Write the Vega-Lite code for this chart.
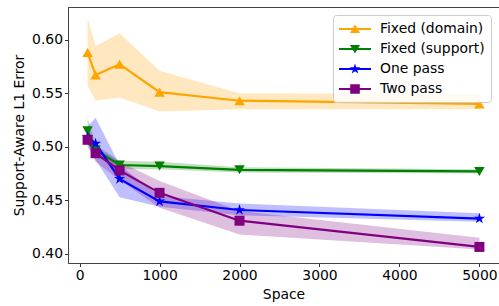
{
  "$schema": "https://vega.github.io/schema/vega-lite/v6.json",
  "width": 431,
  "height": 256,
  "autosize": {"type": "none"},
  "padding": {"left": 68, "top": 7, "right": 0, "bottom": 43},
  "config": {
    "font": "DejaVu Sans",
    "view": {"stroke": "#444", "strokeWidth": 1},
    "axis": {"grid": false, "labelFontSize": 13.9, "titleFontSize": 13.9, "labelColor": "black", "titleColor": "black", "titleFontWeight": "normal", "tickColor": "#333", "domainColor": "#444", "tickSize": 3.5, "labelPadding": 2, "titlePadding": 5}
  },
  "data": {"values": [
    {"series": "Fixed (domain)", "space": 100, "mean": 0.588, "lo": 0.557, "hi": 0.620},
    {"series": "Fixed (domain)", "space": 200, "mean": 0.567, "lo": 0.543, "hi": 0.594},
    {"series": "Fixed (domain)", "space": 500, "mean": 0.577, "lo": 0.546, "hi": 0.606},
    {"series": "Fixed (domain)", "space": 1000, "mean": 0.551, "lo": 0.533, "hi": 0.571},
    {"series": "Fixed (domain)", "space": 2000, "mean": 0.543, "lo": 0.535, "hi": 0.550},
    {"series": "Fixed (domain)", "space": 5000, "mean": 0.540, "lo": 0.535, "hi": 0.549},
    {"series": "Fixed (support)", "space": 100, "mean": 0.515, "lo": 0.503, "hi": 0.527},
    {"series": "Fixed (support)", "space": 200, "mean": 0.497, "lo": 0.492, "hi": 0.502},
    {"series": "Fixed (support)", "space": 500, "mean": 0.483, "lo": 0.479, "hi": 0.487},
    {"series": "Fixed (support)", "space": 1000, "mean": 0.482, "lo": 0.479, "hi": 0.486},
    {"series": "Fixed (support)", "space": 2000, "mean": 0.4785, "lo": 0.476, "hi": 0.481},
    {"series": "Fixed (support)", "space": 5000, "mean": 0.477, "lo": 0.475, "hi": 0.479},
    {"series": "One pass", "space": 100, "mean": 0.509, "lo": 0.500, "hi": 0.519},
    {"series": "One pass", "space": 200, "mean": 0.503, "lo": 0.488, "hi": 0.527},
    {"series": "One pass", "space": 500, "mean": 0.470, "lo": 0.453, "hi": 0.483},
    {"series": "One pass", "space": 1000, "mean": 0.449, "lo": 0.444, "hi": 0.454},
    {"series": "One pass", "space": 2000, "mean": 0.441, "lo": 0.436, "hi": 0.447},
    {"series": "One pass", "space": 5000, "mean": 0.433, "lo": 0.430, "hi": 0.438},
    {"series": "Two pass", "space": 100, "mean": 0.5065, "lo": 0.503, "hi": 0.510},
    {"series": "Two pass", "space": 200, "mean": 0.494, "lo": 0.486, "hi": 0.500},
    {"series": "Two pass", "space": 500, "mean": 0.478, "lo": 0.469, "hi": 0.486},
    {"series": "Two pass", "space": 1000, "mean": 0.457, "lo": 0.443, "hi": 0.468},
    {"series": "Two pass", "space": 2000, "mean": 0.431, "lo": 0.418, "hi": 0.440},
    {"series": "Two pass", "space": 5000, "mean": 0.4065, "lo": 0.404, "hi": 0.415}
  ]},
  "encoding": {
    "x": {"field": "space", "type": "quantitative", "title": "Space",
      "scale": {"domain": [-145, 5245], "nice": false, "zero": false},
      "axis": {"values": [0, 1000, 2000, 3000, 4000, 5000], "format": "d"}}
  },
  "layer": [
    {
      "mark": {"type": "area", "opacity": 0.25},
      "encoding": {
        "y": {"field": "lo", "type": "quantitative", "title": "Support-Aware L1 Error",
          "scale": {"domain": [0.3915, 0.6305], "nice": false, "zero": false},
          "axis": {"values": [0.4, 0.45, 0.5, 0.55, 0.6], "format": ".2f"}},
        "y2": {"field": "hi"},
        "fill": {"field": "series", "type": "nominal", "legend": null,
          "scale": {"range": ["#FFA500", "#008000", "#0000FF", "#800080"]}}
      }
    },
    {
      "mark": {"type": "line", "strokeWidth": 2.2},
      "encoding": {
        "y": {"field": "mean", "type": "quantitative", "title": "Support-Aware L1 Error"},
        "stroke": {"field": "series", "type": "nominal", "legend": null,
          "scale": {"range": ["#FFA500", "#008000", "#0000FF", "#800080"]}}
      }
    },
    {
      "transform": [{"filter": "datum.series === 'Fixed (domain)'"}],
      "mark": {"type": "point", "filled": true, "opacity": 1, "shape": "triangle-up", "size": 110, "color": "#FFA500"},
      "encoding": {"y": {"field": "mean", "type": "quantitative", "title": "Support-Aware L1 Error"}}
    },
    {
      "transform": [{"filter": "datum.series === 'Fixed (support)'"}],
      "mark": {"type": "point", "filled": true, "opacity": 1, "shape": "triangle-down", "size": 110, "color": "#008000"},
      "encoding": {"y": {"field": "mean", "type": "quantitative", "title": "Support-Aware L1 Error"}}
    },
    {
      "transform": [{"filter": "datum.series === 'One pass'"}],
      "mark": {"type": "point", "filled": true, "opacity": 1, "shape": "M0,-1L0.2245,-0.309L0.951,-0.309L0.3633,0.118L0.588,0.809L0,0.382L-0.588,0.809L-0.3633,0.118L-0.951,-0.309L-0.2245,-0.309Z", "size": 140, "color": "#0000FF"},
      "encoding": {"y": {"field": "mean", "type": "quantitative", "title": "Support-Aware L1 Error"}}
    },
    {
      "transform": [{"filter": "datum.series === 'Two pass'"}],
      "mark": {"type": "point", "filled": true, "opacity": 1, "shape": "square", "size": 100, "color": "#800080"},
      "encoding": {"y": {"field": "mean", "type": "quantitative", "title": "Support-Aware L1 Error"}}
    },
    {
      "mark": {"type": "point", "filled": true, "opacity": 1, "size": 0},
      "encoding": {
        "y": {"field": "mean", "type": "quantitative", "title": "Support-Aware L1 Error"},
        "color": {"field": "series", "type": "nominal",
          "scale": {"domain": ["Fixed (domain)", "Fixed (support)", "One pass", "Two pass"], "range": ["#FFA500", "#008000", "#0000FF", "#800080"]},
          "legend": {"title": null, "orient": "top-right", "offset": 8, "padding": 6, "fillColor": "rgba(255,255,255,0.8)", "strokeColor": "#cccccc", "cornerRadius": 3, "labelFontSize": 13.9, "labelColor": "black", "labelOffset": 25, "rowPadding": 5, "symbolSize": 256, "symbolOpacity": 1, "symbolStrokeWidth": 0, "labelLimit": 300,
            "encode": {"symbols": {"update": {"opacity": {"value": 1}, "fill": {"scale": "color", "field": "value"}, "stroke": {"value": "transparent"}, "size": {"value": 256}}}}}},
        "shape": {"field": "series", "type": "nominal",
          "scale": {"domain": ["Fixed (domain)", "Fixed (support)", "One pass", "Two pass"],
            "range": [
              "M-1,-0.14L3,-0.14L3,0.14L-1,0.14ZM1,-0.55L1.63,0.5L0.37,0.5Z",
              "M-1,-0.14L3,-0.14L3,0.14L-1,0.14ZM0.37,-0.5L1.63,-0.5L1,0.55Z",
              "M-1,-0.14L3,-0.14L3,0.14L-1,0.14ZM1,-0.7L1.157,-0.216L1.666,-0.216L1.254,0.083L1.412,0.566L1,0.267L0.588,0.566L0.746,0.083L0.334,-0.216L0.843,-0.216Z",
              "M-1,-0.14L3,-0.14L3,0.14L-1,0.14ZM0.4,-0.6L1.6,-0.6L1.6,0.6L0.4,0.6Z"
            ]},
          "legend": {"title": null, "orient": "top-right", "offset": 8, "padding": 6, "fillColor": "rgba(255,255,255,0.8)", "strokeColor": "#cccccc", "cornerRadius": 3, "labelFontSize": 13.9, "labelColor": "black", "labelOffset": 25, "rowPadding": 5, "symbolSize": 256, "symbolOpacity": 1, "symbolStrokeWidth": 0, "labelLimit": 300,
            "encode": {"symbols": {"update": {"opacity": {"value": 1}, "fill": {"scale": "color", "field": "value"}, "stroke": {"value": "transparent"}, "size": {"value": 256}}}}}}
      }
    }
  ]
}
